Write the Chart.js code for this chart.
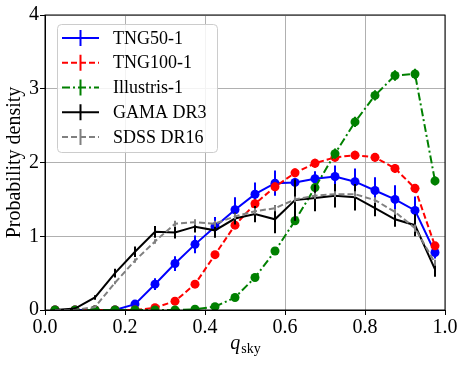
<!DOCTYPE html>
<html>
<head>
<meta charset="utf-8">
<script src="https://cdn.jsdelivr.net/npm/chart.js"></script>
<style>
  html, body { margin: 0; padding: 0; background: #fff; }
  #wrap { width: 464px; height: 366px; }
</style>
</head>
<body>
<div id="wrap"><canvas id="chart" width="464" height="366"></canvas></div>
<script>
// bin centres in q_sky
const qsky = [0.025, 0.075, 0.125, 0.175, 0.225, 0.275, 0.325, 0.375, 0.425, 0.475,
              0.525, 0.575, 0.625, 0.675, 0.725, 0.775, 0.825, 0.875, 0.925, 0.975];

const tng50 =     [0, 0, 0, 0, 0.08, 0.35, 0.63, 0.89, 1.13, 1.36, 1.57, 1.72, 1.73, 1.78, 1.81, 1.74, 1.62, 1.50, 1.35, 0.78];
const tng50Err =  [0, 0, 0, 0, 0.03, 0.08, 0.10, 0.12, 0.13, 0.17, 0.16, 0.17, 0.06, 0.10, 0.15, 0.18, 0.18, 0.19, 0.19, 0.08];

const tng100 =    [0, 0, 0, 0, 0, 0.03, 0.12, 0.35, 0.75, 1.15, 1.44, 1.67, 1.86, 1.99, 2.07, 2.10, 2.07, 1.92, 1.65, 0.87];
const tng100Err = [0, 0, 0, 0, 0, 0.02, 0.03, 0.04, 0.05, 0.05, 0.06, 0.06, 0.06, 0.06, 0.06, 0.06, 0.06, 0.06, 0.06, 0.05];

const illustris =    [0, 0, 0, 0, 0, 0, 0, 0.01, 0.045, 0.17, 0.44, 0.80, 1.21, 1.66, 2.12, 2.55, 2.91, 3.18, 3.20, 1.75];
const illustrisErr = [0, 0, 0, 0, 0, 0, 0, 0.01, 0.02, 0.03, 0.04, 0.05, 0.05, 0.06, 0.07, 0.07, 0.07, 0.07, 0.07, 0.06];

const gama =    [0, 0.02, 0.17, 0.50, 0.79, 1.06, 1.05, 1.13, 1.08, 1.24, 1.30, 1.23, 1.49, 1.52, 1.55, 1.53, 1.38, 1.23, 1.15, 0.55];
const gamaErr = [0, 0.01, 0.03, 0.06, 0.07, 0.08, 0.08, 0.08, 0.10, 0.08, 0.11, 0.19, 0.28, 0.18, 0.16, 0.18, 0.11, 0.10, 0.15, 0.10];

const sdss =    [0, 0, 0.04, 0.37, 0.67, 0.93, 1.17, 1.19, 1.17, 1.27, 1.34, 1.38, 1.50, 1.55, 1.57, 1.57, 1.49, 1.33, 1.11, 0.64];
const sdssErr = [0, 0, 0.01, 0.02, 0.03, 0.03, 0.04, 0.04, 0.04, 0.04, 0.04, 0.04, 0.04, 0.04, 0.04, 0.04, 0.04, 0.04, 0.05, 0.04];

const xTicks = [0, 0.2, 0.4, 0.6, 0.8, 1.0];
const yTicks = [0, 1, 2, 3, 4];

const serif = "'Liberation Serif', 'DejaVu Serif', serif";

const series = [
    { label: 'TNG50-1',     values: tng50,     errors: tng50Err,     color: '#0000ff', dash: [],           marker: 4.5 },
    { label: 'TNG100-1',    values: tng100,    errors: tng100Err,    color: '#ff0000', dash: [6, 3],       marker: 4.5 },
    { label: 'Illustris-1', values: illustris, errors: illustrisErr, color: '#008000', dash: [8, 3, 2, 3], marker: 4.5 },
    { label: 'GAMA DR3',    values: gama,      errors: gamaErr,      color: '#000000', dash: [],           marker: 0 },
    { label: 'SDSS DR16',   values: sdss,      errors: sdssErr,      color: '#808080', dash: [6, 3],       marker: 0 }
];

const datasets = series.map((s, i) => ({
    label: s.label,
    data: qsky.map((q, j) => ({ x: q, y: s.values[j] })),
    errors: s.errors,
    borderColor: s.color,
    backgroundColor: s.color,
    borderWidth: 2,
    borderDash: s.dash,
    pointRadius: s.marker,
    pointBorderWidth: 0,
    pointBackgroundColor: s.color,
    tension: 0,
    order: -i
}));

// vertical error bars, drawn right after each line
const errorBars = {
    id: 'errorBars',
    afterDatasetDraw(chart, args) {
        const ds = chart.data.datasets[args.index];
        const xs = chart.scales.x, ys = chart.scales.y;
        const ctx = chart.ctx;
        ctx.save();
        ctx.strokeStyle = ds.borderColor;
        ctx.lineWidth = 2;
        ctx.setLineDash([]);
        ds.data.forEach((p, j) => {
            const e = ds.errors[j];
            if (!e) return;
            const px = xs.getPixelForValue(p.x);
            ctx.beginPath();
            ctx.moveTo(px, ys.getPixelForValue(p.y - e));
            ctx.lineTo(px, ys.getPixelForValue(p.y + e));
            ctx.stroke();
        });
        ctx.restore();
    }
};

// frame, legend box and x title
const decorations = {
    id: 'decorations',
    afterDraw(chart) {
        const ctx = chart.ctx;
        const a = chart.chartArea;
        ctx.save();
        ctx.strokeStyle = '#000';
        ctx.lineWidth = 1;
        ctx.strokeRect(a.left, a.top, a.right - a.left, a.bottom - a.top);

        // legend
        const lx = 57, ly = 24, lw = 160, lh = 128;
        ctx.beginPath();
        ctx.roundRect(lx + 0.5, ly + 0.5, lw, lh, 4);
        ctx.fillStyle = 'rgba(255,255,255,0.85)';
        ctx.fill();
        ctx.strokeStyle = '#cccccc';
        ctx.stroke();
        ctx.font = '18px ' + serif;
        ctx.textBaseline = 'middle';
        ctx.textAlign = 'left';
        series.forEach((s, i) => {
            const y = 38 + i * 24.75;
            ctx.strokeStyle = s.color;
            ctx.lineWidth = 2;
            ctx.setLineDash(s.dash);
            ctx.beginPath();
            ctx.moveTo(62, y);
            ctx.lineTo(99, y);
            ctx.stroke();
            ctx.setLineDash([]);
            ctx.beginPath();
            ctx.moveTo(80.5, y - 8);
            ctx.lineTo(80.5, y + 8);
            ctx.stroke();
            ctx.fillStyle = '#000';
            ctx.fillText(s.label, 113, y + 1);
        });

        // x title: q_sky
        const cx = (a.left + a.right) / 2;
        ctx.font = 'italic 20px ' + serif;
        const qw = ctx.measureText('q').width;
        ctx.font = '14px ' + serif;
        const sw = ctx.measureText('sky').width;
        const x0 = cx - (qw + sw) / 2;
        ctx.fillStyle = '#000';
        ctx.textBaseline = 'alphabetic';
        ctx.font = 'italic 20px ' + serif;
        ctx.fillText('q', x0, 349);
        ctx.font = '14px ' + serif;
        ctx.fillText('sky', x0 + qw + 1, 353);
        ctx.restore();
    }
};

new Chart(document.getElementById('chart'), {
    type: 'line',
    data: { datasets },
    options: {
        responsive: false,
        animation: false,
        events: [],
        layout: { padding: { top: 15, right: 19, left: 0, bottom: 0 } },
        plugins: { legend: { display: false }, tooltip: { enabled: false } },
        scales: {
            x: {
                type: 'linear',
                min: 0, max: 1,
                afterFit: s => { s.height = 56; },
                afterBuildTicks: s => { s.ticks = xTicks.map(v => ({ value: v })); },
                ticks: { color: '#000', font: { family: serif, size: 20 }, padding: 1, maxRotation: 0,
                         callback: v => v.toFixed(1) },
                grid: { color: '#b0b0b0', lineWidth: 1, tickLength: 5, tickColor: '#000' },
                border: { color: '#000', width: 1 }
            },
            y: {
                min: 0, max: 4,
                afterFit: s => { s.width = 45; },
                afterBuildTicks: s => { s.ticks = yTicks.map(v => ({ value: v })); },
                ticks: { color: '#000', font: { family: serif, size: 20 }, padding: 1,
                         callback: v => String(v) },
                grid: { color: '#b0b0b0', lineWidth: 1, tickLength: 5, tickColor: '#000' },
                border: { color: '#000', width: 1 },
                title: { display: true, text: 'Probability density', color: '#000',
                         font: { family: serif, size: 20 }, padding: { top: 3, bottom: 0 } }
            }
        }
    },
    plugins: [errorBars, decorations]
});
</script>
</body>
</html>
